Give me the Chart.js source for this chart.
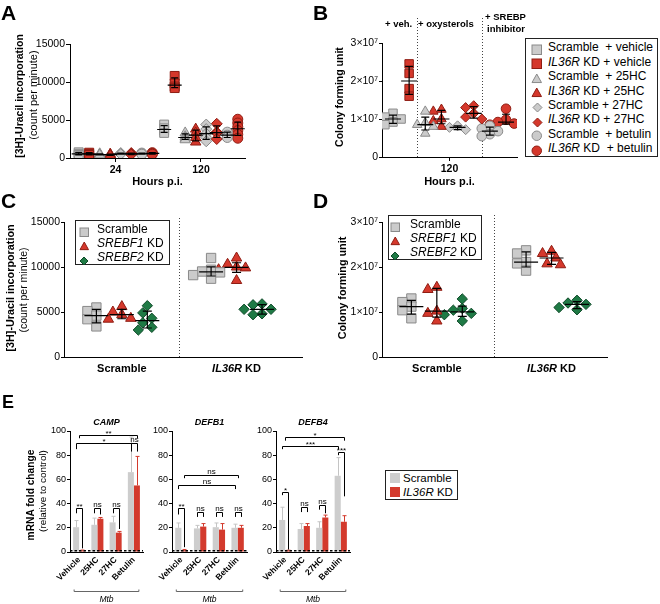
<!DOCTYPE html>
<html><head><meta charset="utf-8">
<script src="https://cdn.jsdelivr.net/npm/chart.js@4.4.1/dist/chart.umd.min.js"></script>
<style>
html,body{margin:0;padding:0;background:#fff}
body{position:relative;width:660px;height:604px;overflow:hidden;font-family:'Liberation Sans',Arial,Helvetica,sans-serif;color:#000}
canvas{position:absolute}
.t{position:absolute;white-space:pre;line-height:1;color:#000}
.box{position:absolute;border:1.3px solid #222;box-sizing:border-box}
.mk{position:absolute}
</style></head><body>
<script>
// ================= DATA =================
// Panels A & B: eight treatment groups
const groupLabels = ['Scramble  + vehicle','IL36R KD + vehicle','Scramble  + 25HC','IL36R KD + 25HC','Scramble + 27HC','IL36R KD + 27HC','Scramble  + betulin','IL36R KD  + betulin'];
const hourLabelsA = ['24','120'];
const uracilTicks = [0,5000,10000,15000];
// [3H]-uracil incorporation (cpm), replicate values per group
const uracil24h = [[750,550,400],[700,550,400],[550,450,400],[500,450,350],[650,550,500],[650,550,450],[650,550,500],[700,600,500]];
const uracil120h = [[4400,3900,3600,3300],[10800,9800,9400,9200],[3300,2800,2600,2400],[3800,3300,2700,2100],[4400,3800,3200,2700,2200],[4500,3400,3300,2500],[3400,3000,2700],[5100,4600,4100,3600,3100,2600]];
const hourLabelsB = ['120'];
const cfuTicks = [0,1,2,3]; // x10^7
// colony forming units (x10^7), replicate values per group, 120 h
const cfu120h = [[1.15,1.05,1.0,0.92,0.85],[2.45,2.2,1.8,1.6],[1.2,0.9,0.85,0.8,0.62],[1.25,1.2,1.0,0.95,0.8],[0.82,0.78,0.72],[1.35,1.3,1.15,1.05,1.0],[0.82,0.75,0.68,0.6,0.55],[1.27,0.98,0.92,0.88,0.85]];
const blockLabelsB = ['+ veh.','+ oxysterols','+ SREBP','inhibitor'];
// Panels C & D
const cellLines = ['Scramble','IL36R KD'];
const knockdowns = ['Scramble','SREBF1 KD','SREBF2 KD'];
const uracilScramble = [[5500,5100,4600,4200,3400],[11000,9700,9500,9400,9100,8700]];
const uracilSREBF1 = [[5600,5000,4700,4300,4200],[11000,10300,10000,9900,9700,8500]];
const uracilSREBF2 = [[5700,4900,4300,3800,3300,3000],[5900,5800,5300,5300,4800,4700]];
const cfuScramble = [[1.3,1.22,1.12,1.04,0.86],[2.37,2.3,2.11,2.08,1.92]];
const cfuSREBF1 = [[1.55,1.5,1.02,0.97,0.8],[2.35,2.3,2.2,2.07,2.05]];
const cfuSREBF2 = [[1.29,1.08,1.04,0.97,0.94,0.8],[1.26,1.2,1.17,1.1,1.05]];
// Panel E
const treatments = ['Vehicle','25HC','27HC','Betulin'];
const genes = ['CAMP','DEFB1','DEFB4'];
const seriesE = ['Scramble','IL36R KD'];
const foldTicks = [0,20,40,60,80,100];
const campScramble = [20.5,22.5,24.5,66];  const campScrambleSD = [5.5,5.5,5,29];
const campKD = [1,27.5,16,55];             const campKDSD = [0.6,1,1,24];
const defb1Scramble = [20,19.5,20.5,20];   const defb1ScrambleSD = [4,2.5,3.5,3];
const defb1KD = [1.5,21,18.5,20];          const defb1KDSD = [0.6,2.5,5,2];
const defb4Scramble = [26.5,19,20,63];     const defb4ScrambleSD = [10.5,4.5,5,15];
const defb4KD = [1,21.5,28.5,25];          const defb4KDSD = [0.5,2,2,5];
// significance annotations: bracket ends [category, bar(0 scramble,1 KD,'c' centre)], heights in fold units
const sigCAMP = [
  {a:[0,'c'],b:[3,1],y:97,text:'**'},
  {a:[0,0],b:[3,0],y:90,l:85,r:85,text:'*'},
  {a:[3,0],b:[3,1],y:90,l:83,r:83,text:'ns'},
  {a:[0,0],b:[0,1],y:36,l:32,r:3,text:'**'},
  {a:[1,0],b:[1,1],y:36,l:32,r:31,text:'ns'},
  {a:[2,0],b:[2,1],y:36,l:32,r:19,text:'ns'}];
const sigDEFB1 = [
  {a:[0,1],b:[3,'c'],y:64,text:'ns'},
  {a:[0,0],b:[3,0],y:55,text:'ns'},
  {a:[0,0],b:[0,1],y:36,l:31,r:4,text:'**'},
  {a:[1,0],b:[1,1],y:33,l:29,r:29,text:'ns'},
  {a:[2,0],b:[2,1],y:33,l:29,r:29,text:'ns'},
  {a:[3,0],b:[3,1],y:33,l:29,r:29,text:'ns'}];
const sigDEFB4 = [
  {a:[0,'c'],b:[3,1],y:95,text:'*'},
  {a:[0,0],b:[3,0],y:88,text:'***'},
  {a:[3,0],b:[3,1],y:83,l:80,r:46,text:'***'},
  {a:[0,0],b:[0,1],y:50,l:47,r:2,text:'*'},
  {a:[1,0],b:[1,1],y:37,l:33,r:33,text:'ns'},
  {a:[2,0],b:[2,1],y:39,l:35,r:32,text:'ns'}];

// ================= STYLE / HELPERS =================
const FONT = "'Liberation Sans', Arial, Helvetica, sans-serif";
Chart.defaults.font.family = FONT;
Chart.defaults.color = '#000';
const GRAY='#cbcbcb', GRAYB='#8a8a8a', RED='#d5382c', REDB='#8f1d13', GREEN='#1f7a45', GREENB='#0f4a29';
const EGRAY='#cdcdcd', ERED='#d33a2d';

function mkCanvas(b){const c=document.createElement('canvas');c.width=b.w;c.height=b.h;c.style.left=b.l+'px';c.style.top=b.t+'px';c.style.width=b.w+'px';c.style.height=b.h+'px';document.body.appendChild(c);return c;}
function frame(b,a){return {padding:{left:0,top:a.t-b.t,right:b.l+b.w-a.r,bottom:0},yW:a.l-b.l,xH:b.t+b.h-a.b,box:b};}
function baseOpts(f){return {responsive:false,animation:false,devicePixelRatio:1,events:[],layout:{padding:f.padding},plugins:{legend:{display:false},tooltip:{enabled:false},title:{display:false}}};}
function yLin(f,ticks,fmt,size,tl){
  return {type:'linear',min:ticks[0],max:ticks[ticks.length-1],
    afterFit:s=>{s.width=f.yW;},
    afterBuildTicks:s=>{s.ticks=ticks.map(v=>({value:v}));},
    ticks:{font:{size:size},color:'#000',padding:1,autoSkip:false,callback:v=>fmt(v)},
    grid:{display:true,drawOnChartArea:false,drawTicks:true,tickLength:tl,tickColor:'#000',tickWidth:1,color:'#000'},
    border:{display:true,color:'#000',width:1}};
}
function xLin(f,min,max,tickVals,labels,o){
  return {type:'linear',min:min,max:max,
    afterFit:s=>{s.height=f.xH;},
    afterBuildTicks:s=>{s.ticks=tickVals.map(v=>({value:v}));},
    ticks:{display:o.showLabels,font:{size:10.5,weight:'bold'},color:'#000',padding:2,autoSkip:false,maxRotation:0,minRotation:0,callback:(v,i)=>labels[i]},
    grid:{display:true,drawOnChartArea:false,drawTicks:o.ticks,tickLength:4,tickColor:'#000',color:'#000'},
    border:{display:true,color:'#000',width:1},
    title:{display:!!o.title,text:o.title||'',color:'#000',font:{size:11,weight:'bold'},padding:{top:0,bottom:o.tpb||0}}};
}
function quant(s,p){const n=s.length;const pos=p*(n+1);if(pos<=1)return s[0];if(pos>=n)return s[n-1];const lo=Math.floor(pos),fr=pos-lo;return s[lo-1]+fr*(s[lo]-s[lo-1]);}
function medPlugin(groups,hw,cw){return {id:'medIQR',afterDatasetsDraw(chart){
  const {ctx,scales:{x,y}}=chart;ctx.save();ctx.strokeStyle='#000';ctx.lineWidth=1.2;
  groups.forEach(g=>{const s=[...g.vals].sort((a,b)=>a-b);
    const m=y.getPixelForValue(quant(s,.5)),q1=y.getPixelForValue(quant(s,.25)),q3=y.getPixelForValue(quant(s,.75)),px=x.getPixelForValue(g.x);
    ctx.beginPath();ctx.moveTo(px-hw,m);ctx.lineTo(px+hw,m);ctx.moveTo(px,q1);ctx.lineTo(px,q3);
    ctx.moveTo(px-cw,q1);ctx.lineTo(px+cw,q1);ctx.moveTo(px-cw,q3);ctx.lineTo(px+cw,q3);ctx.stroke();});
  ctx.restore();}};}
function dividerPlugin(vals,topPx){return {id:'divider',beforeDatasetsDraw(chart){
  const {ctx,chartArea:ca,scales:{x}}=chart;ctx.save();ctx.strokeStyle='#444';ctx.lineWidth=1;ctx.setLineDash([1,2]);
  vals.forEach(v=>{const px=Math.round(x.getPixelForValue(v))+0.5;ctx.beginPath();ctx.moveTo(px,topPx);ctx.lineTo(px,ca.bottom);ctx.stroke();});
  ctx.restore();}};}
function richParts(label){const m=label.match(/^(\S+)( KD.*)$/);return (m&&m[1]!=='Scramble')?[{t:m[1],it:true},{t:m[2]}]:[{t:label}];}
function richTicks(vals,labels,baseOff,size){return {id:'richTicks',afterDraw(chart){
  const {ctx,chartArea:ca,scales:{x}}=chart;ctx.save();ctx.fillStyle='#000';ctx.textBaseline='alphabetic';ctx.textAlign='left';
  vals.forEach((v,i)=>{const segs=richParts(labels[i]);const fonts=segs.map(s=>(s.it?'italic ':'')+'bold '+size+'px '+FONT);
    let w=0;segs.forEach((s,k)=>{ctx.font=fonts[k];w+=ctx.measureText(s.t).width;});
    let cx=x.getPixelForValue(v)-w/2;segs.forEach((s,k)=>{ctx.font=fonts[k];ctx.fillText(s.t,cx,ca.bottom+baseOff);cx+=ctx.measureText(s.t).width;});});
  ctx.restore();}};}
// simple deterministic beeswarm: returns x offsets (data units)
function swarm(vals,pxPerX,pxPerY,d){
  const idx=vals.map((v,i)=>i).sort((a,b)=>vals[b]-vals[a]);const placed=[];const off=new Array(vals.length).fill(0);
  idx.forEach(i=>{const yp=vals[i]*pxPerY;
    for(let k=0;k<30;k++){const c=(k===0?0:(k%2?-1:1)*Math.ceil(k/2))*d*0.45;
      if(placed.every(p=>Math.hypot(p.x-c,p.y-yp)>=d*0.8)){placed.push({x:c,y:yp});off[i]=c/pxPerX;break;}}});
  return off;}

// ---- HTML text helpers ----
function txt(html,x,base,size,st){const d=document.createElement('div');d.className='t';d.innerHTML=html;d.style.fontSize=size+'px';d.style.left=x+'px';d.style.top=(base-0.846*size)+'px';if(st)Object.assign(d.style,st);document.body.appendChild(d);return d;}
function vtxt(html,cx,cy,size,bold){const d=document.createElement('div');d.className='t';d.innerHTML=html;d.style.fontSize=size+'px';d.style.left=cx+'px';d.style.top=cy+'px';d.style.fontWeight=bold?'bold':'normal';d.style.transform='translate(-50%,-50%) rotate(-90deg)';document.body.appendChild(d);return d;}
function ital(label){return label.replace(/^(\S+)( KD)/,(m,a,b)=>a==='Scramble'?m:'<i>'+a+'</i>'+b);}
function marker(shape,fill,stroke,cx,cy,sz){
  const s=sz, h=s/2; let el='';
  const a=`fill="${fill}" stroke="${stroke}" stroke-width="1"`;
  if(shape==='rect') el=`<rect x="1" y="1" width="${s}" height="${s}" ${a}/>`;
  else if(shape==='triangle') el=`<polygon points="${1+h},1 ${1+s},${1+s*0.9} 1,${1+s*0.9}" ${a}/>`;
  else if(shape==='rectRot') el=`<polygon points="${1+h},1 ${1+s},${1+h} ${1+h},${1+s} 1,${1+h}" ${a}/>`;
  else el=`<circle cx="${1+h}" cy="${1+h}" r="${h}" ${a}/>`;
  const d=document.createElement('div');d.className='mk';d.style.left=(cx-h-1)+'px';d.style.top=(cy-h-1)+'px';
  d.innerHTML=`<svg width="${s+2}" height="${s+2}">${el}</svg>`;document.body.appendChild(d);}
function boxDiv(l,t,w,h){const d=document.createElement('div');d.className='box';Object.assign(d.style,{left:l+'px',top:t+'px',width:w+'px',height:h+'px'});document.body.appendChild(d);}

const shapesAB=['rect','rect','triangle','triangle','rectRot','rectRot','circle','circle'];

// ================= PANEL A =================
(function(){
  const f=frame({l:0,t:0,w:255,h:195},{l:70,t:44,r:245,b:158});
  const step=0.123, rad={rect:6.3,triangle:6,rectRot:5.5,circle:5};
  const ds=groupLabels.map((lab,g)=>{const kd=g%2===1,dx=(g-3.5)*step;
    return {label:lab,data:[...uracil24h[g].map(v=>({x:1+dx,y:v})),...uracil120h[g].map(v=>({x:2+dx,y:v}))],
      pointStyle:shapesAB[g],pointRadius:rad[shapesAB[g]],backgroundColor:kd?RED:GRAY,borderColor:kd?REDB:GRAYB,borderWidth:1};});
  const groups=[];groupLabels.forEach((l,g)=>{const dx=(g-3.5)*step;groups.push({x:1+dx,vals:uracil24h[g]},{x:2+dx,vals:uracil120h[g]});});
  const o=baseOpts(f);
  o.scales={x:xLin(f,0.468,2.515,[1,2],hourLabelsA,{showLabels:true,ticks:true,title:'Hours p.i.',tpb:6}),
            y:yLin(f,uracilTicks,v=>String(v),10.5,4)};
  new Chart(mkCanvas(f.box),{type:'scatter',data:{datasets:ds},options:o,plugins:[medPlugin(groups,7,3.5)]});
})();

// ================= PANEL B =================
(function(){
  const f=frame({l:330,t:0,w:195,h:195},{l:382,t:43,r:517,b:157});
  const rad={rect:6,triangle:5.5,rectRot:5,circle:4.8};
  const ds=groupLabels.map((lab,g)=>{const kd=g%2===1;const off=swarm(cfu120h[g],16.14,38,9);
    return {label:lab,data:cfu120h[g].map((v,i)=>({x:g+off[i],y:v})),
      pointStyle:shapesAB[g],pointRadius:rad[shapesAB[g]],backgroundColor:kd?RED:GRAY,borderColor:kd?REDB:GRAYB,borderWidth:1};});
  const groups=groupLabels.map((l,g)=>({x:g,vals:cfu120h[g]}));
  const o=baseOpts(f);
  o.scales={x:xLin(f,-0.68,7.68,[3.5],hourLabelsB,{showLabels:true,ticks:true,title:'Hours p.i.',tpb:6}),
            y:yLin(f,cfuTicks,v=>v===0?'0':v+'×10⁷',10.5,3)};
  new Chart(mkCanvas(f.box),{type:'scatter',data:{datasets:ds},options:o,plugins:[dividerPlugin([1.5,5.5],18),medPlugin(groups,8,4)]});
})();

// ================= PANELS C & D =================
function cdPanel(box,area,xmin,xmax,ticks,fmt,seriesVals,pxPerY,divTop,richOff){
  const f=frame(box,area);
  const shapes=['rect','triangle','rectRot'],fills=[GRAY,RED,GREEN],strokes=[GRAYB,REDB,GREENB],rad=[6.6,6,5.2];
  const offs=[-0.222,0,0.222];
  const ds=knockdowns.map((k,s)=>{const pts=[];seriesVals[s].forEach((vals,c)=>{const sw=swarm(vals,115,pxPerY,10);vals.forEach((v,i)=>pts.push({x:1+c+offs[s]+sw[i],y:v}));});
    return {label:k,data:pts,pointStyle:shapes[s],pointRadius:rad[s],backgroundColor:fills[s],borderColor:strokes[s],borderWidth:1};});
  const groups=[];knockdowns.forEach((k,s)=>seriesVals[s].forEach((vals,c)=>groups.push({x:1+c+offs[s],vals:vals})));
  const o=baseOpts(f);
  o.scales={x:xLin(f,xmin,xmax,[1,2],cellLines,{showLabels:false,ticks:false}),y:yLin(f,ticks,fmt,10.5,3)};
  new Chart(mkCanvas(f.box),{type:'scatter',data:{datasets:ds},options:o,plugins:[dividerPlugin([1.5],divTop),medPlugin(groups,12,4.5),richTicks([1,2],cellLines,richOff,11)]});
}
cdPanel({l:0,t:200,w:310,h:175},{l:64,t:222,r:303,b:357},0.4957,2.574,uracilTicks,v=>String(v),[uracilScramble,uracilSREBF1,uracilSREBF2],135/15000,18,14.5);
cdPanel({l:330,t:200,w:285,h:175},{l:382,t:222,r:608,b:357},0.522,2.487,cfuTicks,v=>v===0?'0':v+'×10⁷',[cfuScramble,cfuSREBF1,cfuSREBF2],45,15,14.5);

// ================= PANEL E =================
function ePlugin(title,sig){return {id:'eDecor',afterDatasetsDraw(chart){
  const {ctx,chartArea:ca,scales:{x,y}}=chart;ctx.save();
  // error bars (upper SD)
  chart.data.datasets.forEach((d,di)=>{const meta=chart.getDatasetMeta(di);
    meta.data.forEach((bar,i)=>{const px=Math.round(bar.x)+0.5,yt=y.getPixelForValue(d.data[i]+d.sd[i]),yb=y.getPixelForValue(d.data[i]);
      ctx.strokeStyle=d.errColor;ctx.lineWidth=1;ctx.beginPath();ctx.moveTo(px,yb);ctx.lineTo(px,yt);ctx.moveTo(px-2,yt);ctx.lineTo(px+2,yt);ctx.stroke();});});
  // dashed control line (fold = 1)
  ctx.strokeStyle='#000';ctx.lineWidth=1.6;ctx.setLineDash([2.5,2]);const y1=y.getPixelForValue(1);
  ctx.beginPath();ctx.moveTo(ca.left,y1);ctx.lineTo(ca.right,y1);ctx.stroke();ctx.setLineDash([]);
  // significance brackets
  const bx=(c,s)=>s==='c'?x.getPixelForValue(c):chart.getDatasetMeta(s).data[c].x;
  ctx.lineWidth=1;ctx.strokeStyle='#000';ctx.fillStyle='#000';ctx.textAlign='center';ctx.textBaseline='alphabetic';ctx.font='8px '+FONT;
  sig.forEach(s=>{const xa=Math.round(bx(...s.a))+0.5,xb=Math.round(bx(...s.b))+0.5,yt=Math.round(y.getPixelForValue(s.y))+0.5;
    const yl=y.getPixelForValue(s.l!==undefined?s.l:s.y-3),yr=y.getPixelForValue(s.r!==undefined?s.r:s.y-3);
    ctx.beginPath();ctx.moveTo(xa,yl);ctx.lineTo(xa,yt);ctx.lineTo(xb,yt);ctx.lineTo(xb,yr);ctx.stroke();
    ctx.fillText(s.text,(xa+xb)/2,yt-(s.text==='ns'?2:0));});
  // gene title
  ctx.font='italic bold 9px '+FONT;ctx.fillText(title,(ca.left+ca.right)/2,ca.top-6);
  // Mtb bracket
  const m0=bx(0,0)-2,m1=bx(3,1)+2,my=ca.bottom+39.5;
  ctx.strokeStyle='#666';ctx.beginPath();ctx.moveTo(m0,my-2);ctx.lineTo(m0,my);ctx.lineTo(m1,my);ctx.lineTo(m1,my-2);ctx.stroke();
  ctx.font='italic 8.5px '+FONT;ctx.fillText('Mtb',(m0+m1)/2,ca.bottom+49.5);
  ctx.restore();}};}
function ePanel(box,area,title,scr,scrSD,kd,kdSD,sig){
  const f=frame(box,area);const o=baseOpts(f);
  o.datasets={bar:{categoryPercentage:0.66,barPercentage:1}};
  o.scales={x:{type:'category',offset:true,afterFit:s=>{s.height=f.xH;},
      ticks:{font:{size:8.5,weight:'bold'},color:'#000',minRotation:45,maxRotation:45,padding:1,autoSkip:false},
      grid:{display:false,drawOnChartArea:false,drawTicks:true,tickLength:2},border:{display:true,color:'#000',width:1}},
    y:yLin(f,foldTicks,v=>String(v),9,3)};
  new Chart(mkCanvas(f.box),{type:'bar',data:{labels:treatments,datasets:[
      {label:seriesE[0],data:scr,sd:scrSD,errColor:'#c4c4c4',backgroundColor:EGRAY},
      {label:seriesE[1],data:kd,sd:kdSD,errColor:ERED,backgroundColor:ERED}]},options:o,plugins:[ePlugin(title,sig)]});
}
ePanel({l:0,t:400,w:150,h:204},{l:70,t:431,r:143,b:552},genes[0],campScramble,campScrambleSD,campKD,campKDSD,sigCAMP);
ePanel({l:150,t:400,w:105,h:204},{l:172,t:431,r:247,b:552},genes[1],defb1Scramble,defb1ScrambleSD,defb1KD,defb1KDSD,sigDEFB1);
ePanel({l:255,t:400,w:100,h:204},{l:276,t:431,r:350,b:552},genes[2],defb4Scramble,defb4ScrambleSD,defb4KD,defb4KDSD,sigDEFB4);

// ================= TEXT, LEGENDS =================
const bold={fontWeight:'bold'};
txt('A',1,20,21,bold);txt('B',313,20,21,bold);txt('C',1,208,21,bold);txt('D',313,208,21,bold);txt('E',2,408,18,bold);
vtxt('[3H]-Uracil incorporation',19,96,10.5,true);vtxt('(count per minute)',33,95,11,false);
vtxt('Colony forming unit',339,97,10.5,true);
vtxt('[3H]-Uracil incorporation',10,288,10.8,true);vtxt('(count per minute)',22.5,290,10.5,false);
vtxt('Colony forming unit',342,288,10.8,true);
vtxt('mRNA fold change',31,495,10.2,true);vtxt('(relative to control)',43,491,9.9,false);
txt(blockLabelsB[0],385,27,9.5,bold);txt(blockLabelsB[1],418,27,9.5,bold);txt(blockLabelsB[2],485,20,9.5,bold);txt(blockLabelsB[3],487,32,9.5,bold);
// legend B
boxDiv(525,38,133,119);
groupLabels.forEach((lab,g)=>{const kd=g%2===1;const base=51.5+14.4*g;
  marker(shapesAB[g],kd?RED:GRAY,kd?REDB:GRAYB,537,base-4.2,shapesAB[g]==='rectRot'?9:9.5);
  txt(ital(lab),548,base,12);});
// legends C, D
function legCD(l,t,w,h,mx,tx,b0){boxDiv(l,t,w,h);const shapes=['rect','triangle','rectRot'],fills=[GRAY,RED,GREEN],strokes=[GRAYB,REDB,GREENB];
  knockdowns.forEach((k,s)=>{const base=b0+14*s;marker(shapes[s],fills[s],strokes[s],mx,base-4.2,s===2?8:8.5);txt(ital(k),tx,base,12);});}
legCD(75,220,95,45,84,97,233);
legCD(388,215,94,45,395,410,228);
// legend E
boxDiv(385,470,73,30);
const eDiv1=document.createElement('div');Object.assign(eDiv1.style,{position:'absolute',left:'390px',top:'473px',width:'10px',height:'10px',background:EGRAY});document.body.appendChild(eDiv1);
const eDiv2=document.createElement('div');Object.assign(eDiv2.style,{position:'absolute',left:'390px',top:'487px',width:'10px',height:'10px',background:ERED});document.body.appendChild(eDiv2);
txt(seriesE[0],403,483,11.5);txt(ital(seriesE[1]),403,496.5,11.5);
</script>
</body></html>
